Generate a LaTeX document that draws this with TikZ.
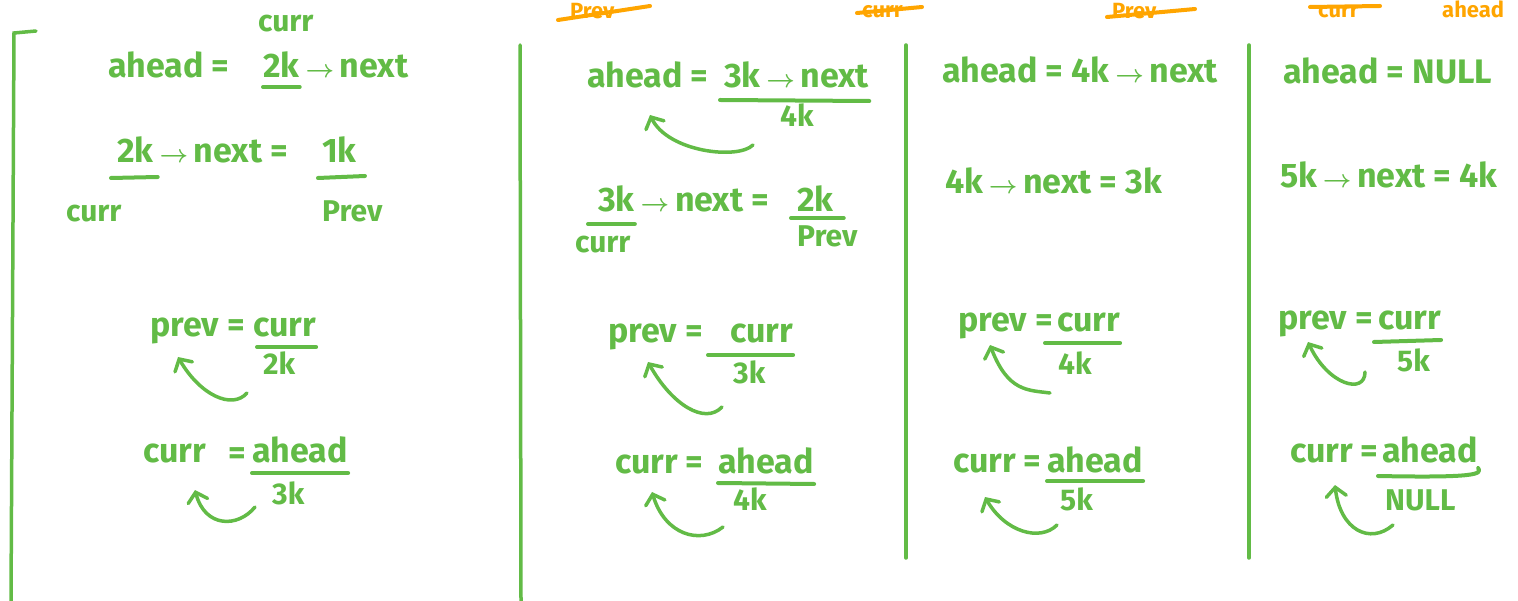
\documentclass[tikz,border=0pt]{standalone}
\usepackage{amsmath}
\usepackage{fontspec}
\setmainfont{Fira Sans}
\usetikzlibrary{arrows.meta}
\definecolor{grn}{RGB}{98,187,70}
\definecolor{org}{RGB}{255,165,0}
\newcommand{\ar}{\,$\boldsymbol{\rightarrow}$\,}
\begin{document}
\begin{tikzpicture}[x=1pt,y=-1pt,
  txt/.style={text=grn,font=\fontsize{34}{38}\selectfont\bfseries,inner sep=0pt,anchor=base west},
  sml/.style={text=grn,font=\fontsize{30}{34}\selectfont\bfseries,inner sep=0pt,anchor=base west},
  otxt/.style={text=org,font=\fontsize{22}{26}\selectfont\bfseries,inner sep=0pt,anchor=base west},
  ul/.style={draw=grn,line width=4pt,line cap=round,line join=round},
  oline/.style={draw=org,line width=4pt,line cap=round},
  wall/.style={draw=grn,line width=3.5pt,line cap=round},
  curv/.style={draw=grn,line width=3.5pt,line cap=round,-{Straight Barb[length=9pt,width=20pt,line cap=round]}}]
\useasboundingbox (0,0) rectangle (1518,601);
% frame lines
\coordinate (b0) at (36,31); \coordinate (b1) at (14,33); \coordinate (b2) at (11,601);
\draw[wall] (b0) -- (b1) -- (b2);
\coordinate (d1t) at (520,45); \coordinate (d1b) at (521,601);
\coordinate (d2t) at (906,45); \coordinate (d2b) at (906,558);
\coordinate (d3t) at (1249,45); \coordinate (d3b) at (1249,558);
\draw[wall] (d1t) -- (d1b);
\draw[wall] (d2t) -- (d2b);
\draw[wall] (d3t) -- (d3b);
% orange labels at top
\node[otxt] (o1) at (570,19) {Prev};
\coordinate (o1a) at (558,20); \coordinate (o1b) at (650,6);
\draw[oline] (o1a) -- (o1b);
\node[otxt] (o2) at (862,18) {curr};
\coordinate (o2a) at (857,13); \coordinate (o2b) at (922,7);
\draw[oline] (o2a) -- (o2b);
\node[otxt] (o3) at (1112,19) {Prev};
\coordinate (o3a) at (1107,17); \coordinate (o3b) at (1195,9);
\draw[oline] (o3a) -- (o3b);
\node[otxt] (o4) at (1318,18) {curr};
\coordinate (o4a) at (1310,7); \coordinate (o4b) at (1380,6);
\draw[oline] (o4a) -- (o4b);
\node[otxt] (o5) at (1442,18) {ahead};
% ---------- column 1
\node[sml] (c1cur) at (258,32) {curr};
\node[txt] (c1a) at (108,78) {ahead =};
\node[txt] (c1b) at (263,78) {2k};
\node[txt] (c1c) at (c1b.base east) {\ar next};
\draw[ul] ([yshift=-9pt]c1b.base west) -- ([yshift=-9pt]c1b.base east);
\node[txt] (c1d) at (117,163) {2k};
\node[txt] (c1e) at (c1d.base east) {\ar next =};
\node[txt] (c1f) at (322,163) {1k};
\draw[ul] ([xshift=-6pt,yshift=-15pt]c1d.base west) -- ([xshift=4pt,yshift=-14pt]c1d.base east);
\draw[ul] ([xshift=-4pt,yshift=-15pt]c1f.base west) -- ([xshift=8pt,yshift=-13pt]c1f.base east);
\node[sml] (c1l3) at (66,222) {curr};
\node[sml] (c1l4) at (322,222) {Prev};
\node[txt] (c1g) at (150,337) {prev =};
\node[txt] (c1h) at (253,337) {curr};
\draw[ul] ([xshift=4pt,yshift=-10pt]c1h.base west) -- ([yshift=-10pt]c1h.base east);
\node[sml] (c1l6) at (263,375) {2k};
\coordinate (c1a1s) at (247,393); \coordinate (c1a1e) at (178,357);
\draw[curv] (c1a1s) .. controls (232,410) and (200,395) .. (c1a1e);
\node[txt] (c1i) at (143,462) {curr};
\node[txt] (c1j) at (228,464) {=};
\node[txt] (c1k) at (252,462) {ahead};
\draw[ul] ([yshift=-11pt]c1k.base west) -- ([yshift=-11pt]c1k.base east);
\node[sml] (c1l8) at (272,504) {3k};
\coordinate (c1a2s) at (255,507); \coordinate (c1a2e) at (195,490);
\draw[curv] (c1a2s) .. controls (238,528) and (205,528) .. (c1a2e);
% ---------- column 2
\node[txt] (c2a) at (587,88) {ahead =};
\node[txt] (c2b) at (724,88) {3k\ar next};
\draw[ul] ([xshift=-4pt,yshift=-12pt]c2b.base west) -- ([yshift=-13pt]c2b.base east);
\node[sml] (c2l2) at (780,127) {4k};
\coordinate (c2a1s) at (753,145); \coordinate (c2a1e) at (650,115);
\draw[curv] (c2a1s) .. controls (738,160) and (668,152) .. (c2a1e);
\node[txt] (c2c) at (598,212) {3k};
\node[txt] (c2d) at (c2c.base east) {\ar next =};
\node[txt] (c2e) at (797,212) {2k};
\draw[ul] ([xshift=-10pt,yshift=-12pt]c2c.base west) -- ([yshift=-12pt]c2c.base east);
\draw[ul] ([xshift=-6pt,yshift=-6pt]c2e.base west) -- ([xshift=10pt,yshift=-6pt]c2e.base east);
\node[sml] (c2l4) at (575,253) {curr};
\node[sml] (c2l5) at (797,247) {Prev};
\node[txt] (c2f) at (608,343) {prev =};
\node[txt] (c2g) at (730,343) {curr};
\draw[ul] ([xshift=-22pt,yshift=-12pt]c2g.base west) -- ([yshift=-12pt]c2g.base east);
\node[sml] (c2l7) at (733,384) {3k};
\coordinate (c2a2s) at (722,407); \coordinate (c2a2e) at (648,362);
\draw[curv] (c2a2s) .. controls (705,425) and (672,405) .. (c2a2e);
\node[txt] (c2h) at (615,473) {curr =};
\node[txt] (c2i) at (718,473) {ahead};
\draw[ul] ([yshift=-10pt]c2i.base west) -- ([yshift=-11pt]c2i.base east);
\node[sml] (c2l9) at (733,510) {4k};
\coordinate (c2a3s) at (723,527); \coordinate (c2a3e) at (652,492);
\draw[curv] (c2a3s) .. controls (700,545) and (665,535) .. (c2a3e);
% ---------- column 3
\node[txt] (c3l1) at (942,83) {ahead = 4k\ar next};
\node[txt] (c3l2) at (945,194) {4k\ar next = 3k};
\node[txt] (c3a) at (958,332) {prev =};
\node[txt] (c3b) at (1057,332) {curr};
\draw[ul] ([xshift=-12pt,yshift=-11pt]c3b.base west) -- ([yshift=-11pt]c3b.base east);
\node[sml] (c3l4) at (1058,375) {4k};
\coordinate (c3a1s) at (1050,393); \coordinate (c3a1e) at (990,345);
\draw[curv] (c3a1s) .. controls (1028,390) and (1008,392) .. (c3a1e);
\node[txt] (c3c) at (953,472) {curr =};
\node[txt] (c3d) at (1047,472) {ahead};
\draw[ul] ([yshift=-9pt]c3d.base west) -- ([yshift=-9pt]c3d.base east);
\node[sml] (c3l6) at (1060,510) {5k};
\coordinate (c3a2s) at (1057,525); \coordinate (c3a2e) at (985,497);
\draw[curv] (c3a2s) .. controls (1040,542) and (1005,532) .. (c3a2e);
% ---------- column 4
\node[txt] (c4l1) at (1283,84) {ahead = NULL};
\node[txt] (c4l2) at (1280,188) {5k\ar next = 4k};
\node[txt] (c4a) at (1278,330) {prev =};
\node[txt] (c4b) at (1378,330) {curr};
\draw[ul] ([xshift=-4pt,yshift=-12pt]c4b.base west) -- ([yshift=-10pt]c4b.base east);
\node[sml] (c4l4) at (1397,372) {5k};
\coordinate (c4a1s) at (1365,372); \coordinate (c4a1e) at (1308,342);
\draw[curv] (c4a1s) .. controls (1365,395) and (1328,385) .. (c4a1e);
\node[txt] (c4c) at (1290,462) {curr =};
\node[txt] (c4d) at (1382,462) {ahead};
\draw[ul] ([xshift=-4pt,yshift=-14pt]c4d.base west) .. controls ([yshift=-16pt]c4d.base east) and ([xshift=4pt,yshift=-12pt]c4d.base east) .. ([xshift=0pt,yshift=-6pt]c4d.base east);
\node[sml] (c4l6) at (1385,510) {NULL};
\coordinate (c4a2s) at (1393,525); \coordinate (c4a2e) at (1335,485);
\draw[curv] (c4a2s) .. controls (1370,545) and (1340,530) .. (c4a2e);
\end{tikzpicture}
\end{document}
